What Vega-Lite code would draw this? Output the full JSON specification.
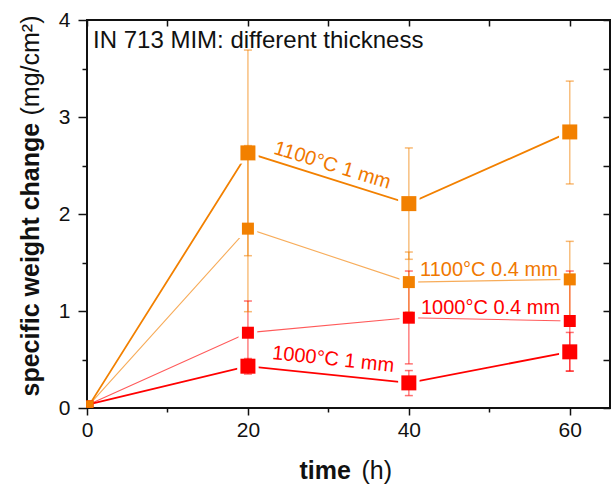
{
  "$schema": "https://vega.github.io/schema/vega-lite/v6.json",
  "width": 523,
  "height": 388,
  "autosize": "none",
  "padding": {"left": 87, "top": 20, "right": 1, "bottom": 76},
  "background": "white",
  "config": {
    "view": {"stroke": "#111111", "strokeWidth": 2},
    "font": "Liberation Sans",
    "axis": {
      "domain": false,
      "grid": false,
      "tickColor": "#111111",
      "tickWidth": 1.5,
      "labelFont": "Liberation Sans",
      "labelFontSize": 21,
      "labelColor": "#111111",
      "labelFlush": false,
      "labelOverlap": false,
      "titleFont": "Liberation Sans",
      "titleFontSize": 25,
      "titleColor": "#111111"
    }
  },
  "datasets": {
    "pts": [
      {"series": "1000°C 1 mm", "t": 0.35, "v": 0.04},
      {"series": "1000°C 1 mm", "t": 20, "v": 0.431, "lo": 0.35, "hi": 0.51},
      {"series": "1000°C 1 mm", "t": 40, "v": 0.259, "lo": 0.128, "hi": 0.386},
      {"series": "1000°C 1 mm", "t": 60, "v": 0.579, "lo": 0.379, "hi": 0.779},
      {"series": "1000°C 0.4 mm", "t": 0.35, "v": 0.04},
      {"series": "1000°C 0.4 mm", "t": 20, "v": 0.776, "lo": 0.449, "hi": 1.103},
      {"series": "1000°C 0.4 mm", "t": 40, "v": 0.931, "lo": 0.455, "hi": 1.412},
      {"series": "1000°C 0.4 mm", "t": 60, "v": 0.897, "lo": 0.382, "hi": 1.412},
      {"series": "1100°C 0.4 mm", "t": 0.35, "v": 0.04},
      {"series": "1100°C 0.4 mm", "t": 20, "v": 1.849, "lo": 0.993, "hi": 2.705},
      {"series": "1100°C 0.4 mm", "t": 40, "v": 1.298, "lo": 0.988, "hi": 1.608},
      {"series": "1100°C 0.4 mm", "t": 60, "v": 1.326, "lo": 0.934, "hi": 1.718},
      {"series": "1100°C 1 mm", "t": 0.35, "v": 0.04},
      {"series": "1100°C 1 mm", "t": 20, "v": 2.63, "lo": 1.57, "hi": 3.69},
      {"series": "1100°C 1 mm", "t": 40, "v": 2.107, "lo": 1.533, "hi": 2.681},
      {"series": "1100°C 1 mm", "t": 60, "v": 2.846, "lo": 2.31, "hi": 3.37}
    ],
    "labels": [
      {"series": "1100°C 1 mm", "t": 30.5, "v": 2.5},
      {"series": "1100°C 0.4 mm", "t": 41.4, "v": 1.36},
      {"series": "1000°C 0.4 mm", "t": 41.5, "v": 0.966},
      {"series": "1000°C 1 mm", "t": 30.6, "v": 0.5}
    ]
  },
  "resolve": {"axis": {"x": "independent", "y": "independent"}},
  "layer": [
    {
      "data": {"name": "pts"},
      "mark": {"type": "line"},
      "encoding": {
        "x": {
          "field": "t", "type": "quantitative",
          "scale": {"domain": [0, 65], "nice": false, "zero": false},
          "axis": {
            "orient": "bottom", "values": [0, 20, 40, 60], "tickSize": 7, "labelPadding": 4,
            "title": "time", "titleFontWeight": "bold", "titleX": 212, "titleY": 70,
            "titleAlign": "left", "titleBaseline": "alphabetic", "titleAngle": 0
          }
        },
        "y": {
          "field": "v", "type": "quantitative",
          "scale": {"domain": [0, 4], "nice": false},
          "axis": {
            "orient": "left", "values": [0, 1, 2, 3, 4], "tickSize": 9, "labelPadding": 8,
            "title": "specific weight change", "titleFontWeight": "bold", "titleX": -49, "titleY": 376,
            "titleAlign": "left", "titleBaseline": "alphabetic", "titleAngle": 270
          }
        },
        "color": {
          "field": "series", "type": "nominal",
          "scale": {
            "domain": ["1000°C 1 mm", "1000°C 0.4 mm", "1100°C 0.4 mm", "1100°C 1 mm"],
            "range": ["#ff0000", "#ff0000", "#f28000", "#f28000"]
          },
          "legend": null
        },
        "strokeWidth": {"condition": {"test": "indexof(datum.series, ' 1 mm') >= 0", "value": 1.8}, "value": 1.1},
        "opacity": {"condition": {"test": "indexof(datum.series, ' 1 mm') >= 0", "value": 1}, "value": 0.65},
        "order": {"field": "t"}
      }
    },
    {
      "data": {"name": "pts"},
      "transform": [{"filter": "datum.t > 1"}],
      "mark": {"type": "point", "shape": "square", "filled": true, "color": "white", "opacity": 1},
      "encoding": {
        "x": {
          "field": "t", "type": "quantitative",
          "scale": {"domain": [0, 65], "nice": false, "zero": false},
          "axis": {
            "orient": "bottom", "values": [10, 30, 50], "tickSize": 4, "labels": false,
            "title": "(h)", "titleFontWeight": "normal", "titleX": 274, "titleY": 70,
            "titleAlign": "left", "titleBaseline": "alphabetic", "titleAngle": 0
          }
        },
        "y": {
          "field": "v", "type": "quantitative",
          "scale": {"domain": [0, 4], "nice": false},
          "axis": {
            "orient": "left", "values": [0.5, 1.5, 2.5, 3.5], "tickSize": 5, "labels": false,
            "title": "(mg/cm²)", "titleFontWeight": "normal", "titleX": -49, "titleY": 95,
            "titleAlign": "left", "titleBaseline": "alphabetic", "titleAngle": 270
          }
        },
        "size": {"condition": {"test": "indexof(datum.series, ' 1 mm') >= 0", "value": 460}, "value": 350}
      }
    },
    {
      "data": {"name": "pts"},
      "transform": [{"filter": "isValid(datum.lo)"}],
      "mark": {"type": "rule", "strokeWidth": 1.5, "opacity": 0.5},
      "encoding": {
        "x": {
          "field": "t", "type": "quantitative",
          "scale": {"domain": [0, 65], "nice": false, "zero": false},
          "axis": {"orient": "top", "values": [0, 10, 20, 30, 40, 50, 60], "tickSize": -6, "labels": false, "title": null}
        },
        "y": {
          "field": "lo", "type": "quantitative",
          "scale": {"domain": [0, 4], "nice": false},
          "axis": {"orient": "right", "values": [0, 0.5, 1, 1.5, 2, 2.5, 3, 3.5, 4], "tickSize": -7, "labels": false, "title": null}
        },
        "y2": {"field": "hi"},
        "color": {"field": "series", "type": "nominal", "legend": null}
      }
    },
    {
      "data": {"name": "pts"},
      "transform": [
        {"filter": "isValid(datum.lo)"},
        {"fold": ["lo", "hi"], "as": ["end", "cap"]}
      ],
      "mark": {"type": "tick", "orient": "horizontal", "size": 8, "thickness": 1.5, "opacity": 0.55},
      "encoding": {
        "x": {"field": "t", "type": "quantitative", "axis": null},
        "y": {"field": "cap", "type": "quantitative", "axis": null},
        "color": {"field": "series", "type": "nominal", "legend": null}
      }
    },
    {
      "data": {"name": "pts"},
      "transform": [{"filter": "datum.t > 1"}],
      "mark": {"type": "point", "shape": "square", "filled": true, "opacity": 1},
      "encoding": {
        "x": {"field": "t", "type": "quantitative", "axis": null},
        "y": {"field": "v", "type": "quantitative", "axis": null},
        "color": {"field": "series", "type": "nominal", "legend": null},
        "size": {"condition": {"test": "indexof(datum.series, ' 1 mm') >= 0", "value": 225}, "value": 144}
      }
    },
    {
      "data": {"name": "pts"},
      "transform": [{"filter": "datum.t < 1"}],
      "mark": {"type": "point", "shape": "square", "filled": true, "opacity": 1, "size": 50},
      "encoding": {
        "x": {"field": "t", "type": "quantitative", "axis": null},
        "y": {"field": "v", "type": "quantitative", "axis": null},
        "color": {"field": "series", "type": "nominal", "legend": null}
      }
    },
    {
      "data": {"name": "labels"},
      "transform": [{"filter": "datum.series === '1100°C 1 mm'"}],
      "mark": {"type": "text", "fontSize": 20, "angle": 17, "align": "center", "baseline": "middle", "color": "#f07800"},
      "encoding": {
        "x": {"field": "t", "type": "quantitative", "axis": null},
        "y": {"field": "v", "type": "quantitative", "axis": null},
        "text": {"field": "series"}
      }
    },
    {
      "data": {"name": "labels"},
      "transform": [{"filter": "datum.series === '1100°C 0.4 mm'"}],
      "mark": {"type": "text", "fontSize": 20, "align": "left", "baseline": "alphabetic", "color": "#f07800"},
      "encoding": {
        "x": {"field": "t", "type": "quantitative", "axis": null},
        "y": {"field": "v", "type": "quantitative", "axis": null},
        "text": {"field": "series"}
      }
    },
    {
      "data": {"name": "labels"},
      "transform": [{"filter": "datum.series === '1000°C 0.4 mm'"}],
      "mark": {"type": "text", "fontSize": 20, "align": "left", "baseline": "alphabetic", "color": "#ff0000"},
      "encoding": {
        "x": {"field": "t", "type": "quantitative", "axis": null},
        "y": {"field": "v", "type": "quantitative", "axis": null},
        "text": {"field": "series"}
      }
    },
    {
      "data": {"name": "labels"},
      "transform": [{"filter": "datum.series === '1000°C 1 mm'"}],
      "mark": {"type": "text", "fontSize": 20, "angle": 6, "align": "center", "baseline": "middle", "color": "#ff0000"},
      "encoding": {
        "x": {"field": "t", "type": "quantitative", "axis": null},
        "y": {"field": "v", "type": "quantitative", "axis": null},
        "text": {"field": "series"}
      }
    },
    {
      "data": {"values": [{"caption": "IN 713 MIM: different thickness", "t": 0.75, "v": 3.708}]},
      "mark": {"type": "text", "fontSize": 24, "align": "left", "baseline": "alphabetic", "color": "#111111"},
      "encoding": {
        "x": {"field": "t", "type": "quantitative", "axis": null},
        "y": {"field": "v", "type": "quantitative", "axis": null},
        "text": {"field": "caption"}
      }
    }
  ]
}
